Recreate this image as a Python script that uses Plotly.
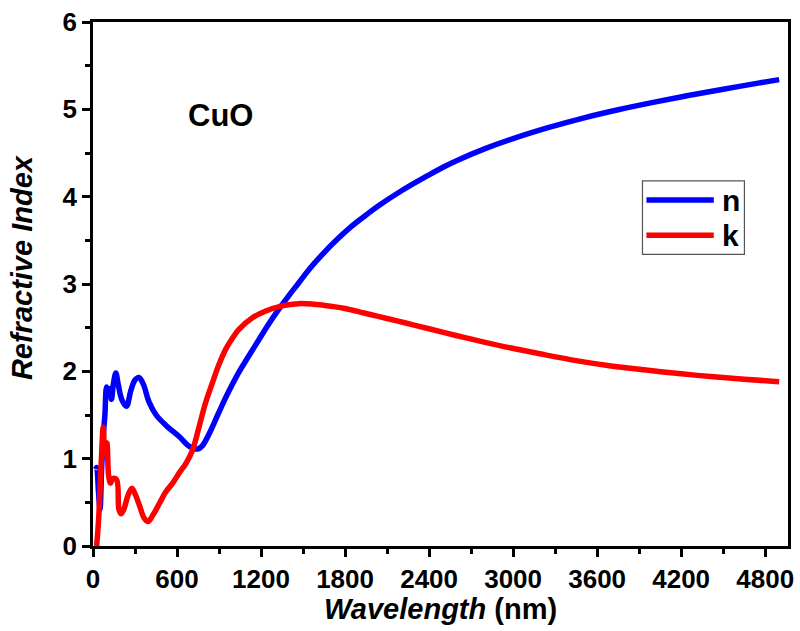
import plotly.graph_objects as go

# ---- data ----
wl_n = [20, 26, 40, 50, 62, 75, 85, 97, 110, 120, 132, 145, 163, 180, 205, 239, 270,
        300, 328, 360, 400, 451, 522, 617, 688, 747, 782, 840, 896, 960, 1038, 1110,
        1180, 1250, 1322, 1400, 1463, 1550, 1650, 1750, 1850, 1950, 2029, 2200, 2400,
        2503, 2600, 2800, 3000, 3250, 3500, 3750, 4000, 4250, 4500, 4750, 4900]
n_vals = [0.88, 0.90, 0.60, 0.42, 0.90, 1.30, 1.50, 1.82, 1.75, 1.80, 1.68, 1.85, 1.98,
          1.85, 1.68, 1.60, 1.78, 1.90, 1.93, 1.85, 1.65, 1.50, 1.38, 1.25, 1.14, 1.11,
          1.15, 1.32, 1.52, 1.74, 1.98, 2.17, 2.35, 2.53, 2.70, 2.87, 3.00, 3.18, 3.36,
          3.52, 3.665, 3.79, 3.885, 4.065, 4.25, 4.34, 4.415, 4.55, 4.665, 4.79, 4.90,
          4.995, 5.08, 5.158, 5.23, 5.30, 5.34]

wl_k = [26, 40, 60, 73, 85, 99, 112, 125, 140, 168, 185, 200, 220, 250, 278, 305, 335,
        365, 392, 430, 475, 520, 569, 617, 665, 711, 760, 800, 853, 900, 950, 1000,
        1042, 1136, 1234, 1350, 1468, 1600, 1700, 1800, 1934, 2029, 2170, 2300, 2503,
        2650, 2800, 2985, 3200, 3460, 3700, 3935, 4200, 4410, 4650, 4900]
k_vals = [0.00, 0.30, 1.00, 1.36, 1.05, 1.18, 0.80, 0.72, 0.77, 0.76, 0.42, 0.37, 0.42,
          0.58, 0.66, 0.58, 0.45, 0.32, 0.28, 0.36, 0.49, 0.62, 0.72, 0.84, 0.95, 1.10,
          1.38, 1.62, 1.87, 2.08, 2.26, 2.39, 2.48, 2.61, 2.69, 2.75, 2.775, 2.765, 2.745,
          2.72, 2.668, 2.632, 2.578, 2.527, 2.446, 2.388, 2.332, 2.267, 2.198, 2.12,
          2.062, 2.017, 1.972, 1.94, 1.91, 1.881]

x_ticks = [0, 600, 1200, 1800, 2400, 3000, 3600, 4200, 4800]
y_ticks = [0, 1, 2, 3, 4, 5, 6]

FONT = "Liberation Sans, Arial, sans-serif"
BLUE = "#0000FF"
RED = "#FF0000"

fig = go.Figure()
fig.add_trace(go.Scatter(x=wl_n, y=n_vals, mode="lines", name="n",
                         line=dict(color=BLUE, width=5.5, shape="spline", smoothing=1.0)))
fig.add_trace(go.Scatter(x=wl_k, y=k_vals, mode="lines", name="k",
                         line=dict(color=RED, width=5.5, shape="spline", smoothing=1.0)))

axis_common = dict(showline=True, linecolor="black", linewidth=2.5, mirror=True,
                   ticks="outside", ticklen=8, tickwidth=2.5, tickcolor="black",
                   showgrid=False, zeroline=False,
                   tickfont=dict(family=FONT, size=26, color="black", weight="bold"))

fig.update_xaxes(range=[0, 4963], tickvals=x_ticks,
                 minor=dict(dtick=300, tick0=0, ticks="outside", ticklen=5,
                            tickwidth=2.5, tickcolor="black"),
                 **axis_common)
fig.update_yaxes(range=[0, 6], tickvals=y_ticks,
                 minor=dict(dtick=0.5, tick0=0, ticks="outside", ticklen=5,
                            tickwidth=2.5, tickcolor="black"),
                 **axis_common)

# custom legend box (paper coordinates)
lx0, lx1, ly0, ly1 = 0.7906, 0.9373, 0.5566, 0.6967
fig.add_shape(type="rect", xref="paper", yref="paper", x0=lx0, x1=lx1, y0=ly0, y1=ly1,
              line=dict(color="#555555", width=1.2), fillcolor="white", layer="above")
for yy, col, lab in [(0.6603, BLUE, "n"), (0.5931, RED, "k")]:
    fig.add_shape(type="line", xref="paper", yref="paper", x0=0.7963, x1=0.8932,
                  y0=yy, y1=yy, line=dict(color=col, width=5.5), layer="above")
    fig.add_annotation(xref="paper", yref="paper", x=0.9015, y=yy, text="<b>%s</b>" % lab,
                       showarrow=False, xanchor="left", yanchor="middle",
                       font=dict(family=FONT, size=30, color="black"))

fig.add_annotation(x=909, y=4.93, xref="x", yref="y", text="<b>CuO</b>", showarrow=False,
                   font=dict(family=FONT, size=31, color="black"))

fig.add_annotation(xref="paper", yref="paper", x=0.5, y=-0.12,
                   text="<b><i>Wavelength</i> (nm)</b>", showarrow=False,
                   xanchor="center", yanchor="middle",
                   font=dict(family=FONT, size=29, color="black"))
fig.add_annotation(xref="paper", yref="paper", x=-0.103, y=0.533,
                   text="<b><i>Refractive Index</i></b>", showarrow=False, textangle=-90,
                   xanchor="center", yanchor="middle",
                   font=dict(family=FONT, size=29, color="black"))

fig.update_layout(width=800, height=631, margin=dict(l=93, r=6, t=22, b=85),
                  paper_bgcolor="white", plot_bgcolor="white", showlegend=False)

fig.write_html("out.html")
